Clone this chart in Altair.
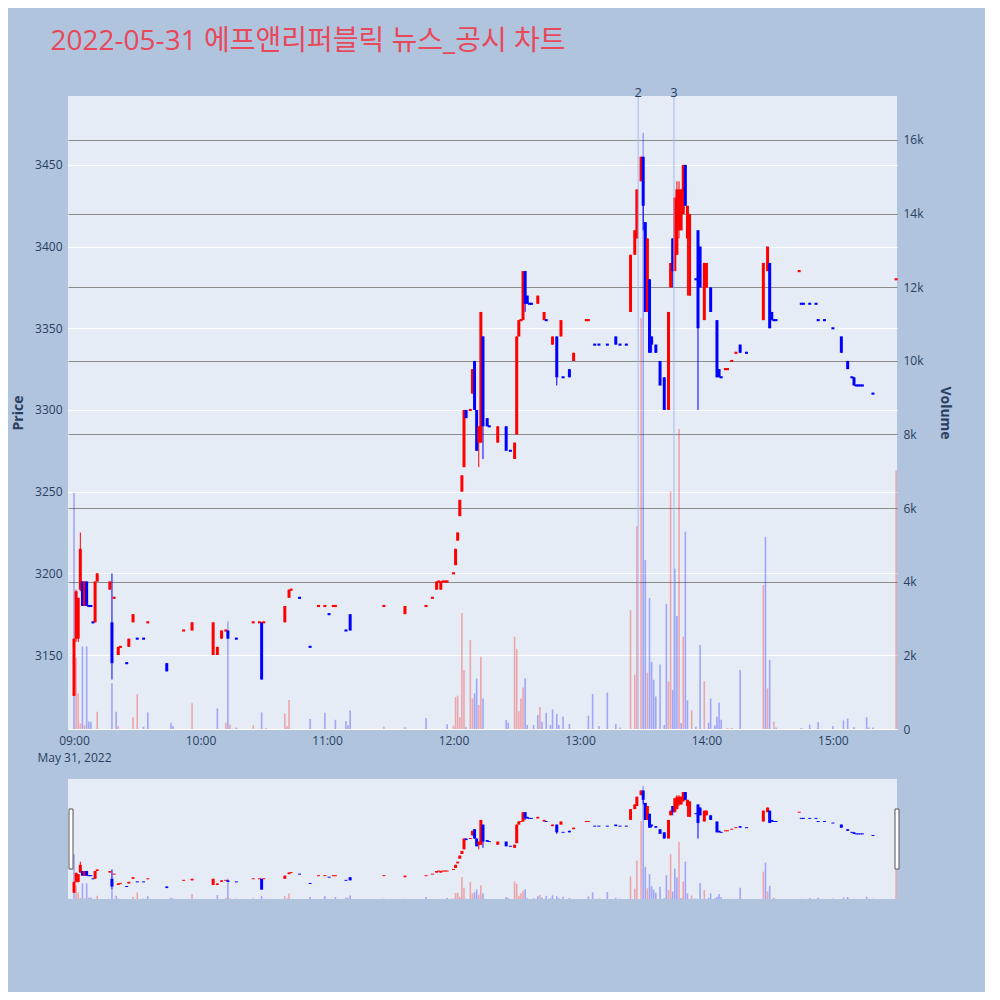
import altair as alt
import pandas as pd

# ---------------- data (minutes after 09:00, prices in KRW) ----------------
candle_t = [0, 1, 2, 3, 4, 5, 6, 7, 8, 9, 10, 11, 17, 18, 19, 21, 22, 25, 26, 28,
            30, 33, 35, 44, 52, 56, 66, 68, 70, 72, 73, 77, 85, 88, 89, 90,
            100, 102, 103, 107, 112, 116, 119, 121, 123, 124, 129, 131, 147, 157,
            167, 170, 172, 173, 174, 175, 176, 177, 180, 181, 182, 183, 184, 185,
            186, 188, 189, 190, 191, 192, 193, 194, 196, 197, 201, 205, 207, 209,
            210, 211, 212, 213, 214, 215, 216, 217, 220, 223, 224, 227, 229, 231,
            232, 235, 237, 243, 244, 247, 249, 253, 257, 259, 262, 264, 266, 267,
            269, 270, 271, 272, 273, 274, 276, 278, 280, 282, 283, 284, 285, 286,
            287, 288, 289, 290, 291, 292, 295, 296, 297, 299, 300, 302, 305, 306,
            307, 309, 310, 312, 314, 316, 319, 327, 329, 330, 331, 332, 333, 344,
            345, 346, 349, 352, 353, 356, 360, 364, 367, 369, 370, 371, 372, 373,
            374, 379, 390]
candle_open = [3125, 3160, 3160, 3190, 3195, 3180, 3195, 3180, 3180, 3170, 3170, 3195, 3190, 3170, 3185, 3150, 3155, 3145, 3155, 3170,
               3160, 3160, 3170, 3145, 3165, 3165, 3150, 3150, 3160, 3165, 3165, 3160, 3170, 3170, 3170, 3170,
               3170, 3185, 3190, 3185, 3155, 3180, 3180, 3175, 3180, 3180, 3165, 3175, 3180, 3175,
               3180, 3185, 3190, 3195, 3190, 3195, 3195, 3195, 3200, 3205, 3220, 3235, 3250, 3265,
               3300, 3300, 3310, 3330, 3300, 3280, 3280, 3345, 3295, 3290, 3280, 3290, 3275, 3270,
               3285, 3345, 3355, 3355, 3385, 3370, 3365, 3365, 3365, 3355, 3355, 3340, 3345, 3345,
               3320, 3325, 3330, 3355, 3355, 3340, 3340, 3340, 3345, 3340, 3340, 3360, 3395, 3405,
               3440, 3455, 3415, 3360, 3380, 3345, 3340, 3330, 3320, 3300, 3375, 3405, 3385, 3395,
               3410, 3410, 3420, 3450, 3405, 3370, 3380, 3410, 3400, 3355, 3375, 3375, 3355, 3325,
               3320, 3325, 3325, 3330, 3335, 3340, 3335, 3355, 3385, 3390, 3360, 3355, 3355, 3385,
               3365, 3365, 3365, 3365, 3355, 3355, 3350, 3345, 3330, 3320, 3320, 3315, 3315, 3315,
               3315, 3310, 3380]
candle_high = [3160, 3190, 3185, 3225, 3195, 3195, 3195, 3180, 3180, 3170, 3195, 3200, 3195, 3200, 3185, 3155, 3155, 3145, 3160, 3175,
               3160, 3160, 3170, 3145, 3165, 3170, 3170, 3155, 3165, 3165, 3165, 3160, 3170, 3170, 3170, 3170,
               3180, 3190, 3190, 3185, 3155, 3180, 3180, 3175, 3180, 3180, 3165, 3175, 3180, 3180,
               3180, 3185, 3195, 3195, 3195, 3195, 3195, 3195, 3200, 3215, 3225, 3245, 3260, 3300,
               3300, 3300, 3325, 3330, 3300, 3290, 3360, 3345, 3295, 3290, 3290, 3290, 3275, 3280,
               3345, 3355, 3355, 3385, 3385, 3370, 3365, 3365, 3370, 3360, 3355, 3345, 3345, 3355,
               3320, 3325, 3335, 3355, 3355, 3340, 3340, 3340, 3345, 3340, 3340, 3395, 3410, 3435,
               3455, 3455, 3415, 3405, 3380, 3345, 3340, 3330, 3320, 3360, 3390, 3405, 3430, 3440,
               3440, 3435, 3450, 3450, 3425, 3420, 3380, 3410, 3400, 3390, 3390, 3375, 3355, 3325,
               3320, 3325, 3325, 3330, 3335, 3340, 3335, 3390, 3400, 3390, 3360, 3355, 3355, 3385,
               3365, 3365, 3365, 3365, 3355, 3355, 3350, 3345, 3330, 3320, 3320, 3315, 3315, 3315,
               3315, 3310, 3380]
candle_low = [3125, 3158, 3158, 3189, 3180, 3180, 3180, 3180, 3180, 3170, 3170, 3195, 3190, 3135, 3185, 3150, 3155, 3145, 3155, 3170,
              3160, 3160, 3170, 3140, 3165, 3165, 3150, 3150, 3160, 3165, 3160, 3160, 3170, 3170, 3135, 3170,
              3170, 3185, 3190, 3185, 3155, 3180, 3180, 3175, 3180, 3180, 3165, 3165, 3180, 3175,
              3180, 3185, 3190, 3195, 3190, 3195, 3195, 3195, 3200, 3205, 3220, 3235, 3250, 3265,
              3295, 3300, 3310, 3300, 3275, 3265, 3280, 3270, 3290, 3290, 3280, 3275, 3275, 3270,
              3285, 3345, 3355, 3355, 3360, 3365, 3365, 3365, 3365, 3355, 3355, 3340, 3315, 3345,
              3320, 3320, 3330, 3355, 3355, 3340, 3340, 3340, 3340, 3340, 3340, 3360, 3395, 3405,
              3440, 3410, 3360, 3360, 3335, 3335, 3335, 3315, 3300, 3300, 3375, 3375, 3385, 3395,
              3405, 3410, 3420, 3425, 3370, 3370, 3380, 3300, 3375, 3355, 3375, 3360, 3320, 3320,
              3320, 3325, 3325, 3330, 3335, 3335, 3335, 3355, 3385, 3350, 3355, 3355, 3355, 3385,
              3365, 3365, 3365, 3365, 3355, 3355, 3350, 3335, 3325, 3320, 3315, 3315, 3315, 3315,
              3315, 3310, 3380]
candle_close = [3160, 3189, 3185, 3215, 3180, 3195, 3180, 3180, 3180, 3170, 3195, 3200, 3195, 3145, 3185, 3155, 3155, 3145, 3160, 3175,
                3160, 3160, 3170, 3140, 3165, 3170, 3170, 3155, 3165, 3165, 3160, 3160, 3170, 3170, 3135, 3170,
                3180, 3190, 3190, 3185, 3155, 3180, 3180, 3175, 3180, 3180, 3165, 3165, 3180, 3180,
                3180, 3185, 3195, 3195, 3195, 3195, 3195, 3195, 3200, 3215, 3225, 3245, 3260, 3300,
                3295, 3300, 3325, 3300, 3275, 3290, 3360, 3290, 3290, 3290, 3290, 3275, 3275, 3280,
                3345, 3355, 3355, 3385, 3365, 3365, 3365, 3365, 3370, 3360, 3355, 3345, 3320, 3355,
                3320, 3320, 3335, 3355, 3355, 3340, 3340, 3340, 3340, 3340, 3340, 3395, 3410, 3435,
                3455, 3425, 3360, 3405, 3335, 3340, 3335, 3315, 3300, 3360, 3390, 3385, 3430, 3435,
                3435, 3435, 3450, 3425, 3425, 3420, 3380, 3350, 3375, 3390, 3390, 3360, 3320, 3320,
                3320, 3325, 3325, 3330, 3335, 3335, 3335, 3390, 3400, 3350, 3355, 3355, 3355, 3385,
                3365, 3365, 3365, 3365, 3355, 3355, 3350, 3335, 3325, 3320, 3315, 3315, 3315, 3315,
                3315, 3310, 3380]

vol_t = [0, 1, 2, 3, 4, 5, 6, 7, 8, 11, 18, 20, 21, 28, 30, 33, 35, 46, 47, 56,
         68, 72, 73, 74, 77, 85, 89, 91, 100, 101, 102, 112, 119, 124, 129, 130, 131,
         147, 157, 167, 177, 180, 181, 182, 183, 184, 185, 186, 188, 189, 190, 191,
         192, 193, 194, 205, 206, 209, 210, 211, 212, 213, 214, 215, 218, 220, 221,
         222, 224, 226, 227, 229, 230, 232, 235, 244, 246, 249, 253, 257, 259, 264,
         266, 267, 269, 270, 271, 272, 273, 274, 275, 276, 278, 280, 281, 282, 283,
         284, 285, 286, 287, 288, 289, 290, 291, 293, 295, 297, 299, 301, 302, 304,
         305, 306, 307, 310, 312, 316, 327, 328, 329, 330, 332, 333, 345, 349, 353,
         360, 365, 367, 370, 376, 377, 379, 390]
vol_value = [6420, 1930, 970, 150, 2240, 100, 2240, 200, 200, 470, 1240, 470, 80, 320, 950, 60, 450, 170, 80, 700,
             560, 170, 2920, 120, 40, 100, 450, 30, 420, 80, 790, 270, 440, 250, 220, 100, 500,
             60, 50, 300, 130, 90, 870, 905, 320, 3150, 1600, 50, 2420, 830, 970, 1370,
             650, 1960, 830, 245, 170, 2510, 2170, 480, 830, 1130, 1380, 110, 110, 380, 600,
             200, 440, 110, 530, 410, 110, 340, 140, 360, 950, 80, 990, 140, 40, 3230,
             1480, 5500, 11170, 16200, 4590, 1530, 3560, 1820, 1340, 880, 1750, 110, 3400, 1290, 6450,
             1060, 4360, 3070, 8150, 160, 2510, 5360, 780, 510, 60, 2280, 1300, 170, 830, 100,
             330, 720, 250, 30, 30, 1600, 3910, 5220, 1100, 1880, 200, 40, 30, 120, 180,
             80, 230, 280, 50, 320, 40, 40, 7020]
vol_dir = [-1, 1, 1, 1, -1, 1, -1, -1, -1, 1, -1, -1, 1, 1, 1, -1, -1, -1, -1, 1,
           -1, 1, -1, 1, -1, 1, -1, 1, 1, 1, 1, -1, -1, -1, -1, -1, -1,
           1, -1, -1, -1, 1, 1, 1, 1, 1, 1, -1, 1, 1, -1, -1,
           1, 1, -1, -1, -1, 1, 1, 1, 1, 1, -1, -1, -1, -1, 1,
           -1, -1, -1, -1, -1, -1, -1, -1, -1, -1, -1, -1, -1, -1, 1,
           1, 1, 1, -1, -1, 1, -1, -1, -1, -1, -1, -1, -1, 1, 1,
           -1, -1, -1, 1, -1, 1, -1, -1, 1, -1, -1, 1, -1, -1, -1,
           -1, -1, -1, 1, 1, -1, 1, -1, 1, -1, 1, -1, -1, -1, -1,
           -1, -1, -1, -1, -1, -1, -1, 1]

news_t = [267.6, 284.6]
news_label = ["2", "3"]

price_ticks = [3150, 3200, 3250, 3300, 3350, 3400, 3450]
volume_ticks = [0, 2000, 4000, 6000, 8000, 10000, 12000, 14000, 16000]
hour_ticks = [0, 60, 120, 180, 240, 300, 360]
hour_labels = ["09:00", "10:00", "11:00", "12:00", "13:00", "14:00", "15:00"]
date_label = "May 31, 2022"
title_text = "2022-05-31 에프앤리퍼블릭 뉴스_공시 차트"

# ---------------- frames ----------------
rows = []
prev_c, prev_up = None, True
for t, o, h, l, c in zip(candle_t, candle_open, candle_high, candle_low, candle_close):
    if c > o:
        up = True
    elif c < o:
        up = False
    elif prev_c is None:
        up = True
    elif c > prev_c:
        up = True
    elif c < prev_c:
        up = False
    else:
        up = prev_up
    rows.append(dict(t=t, o=o, h=h, l=l, c=c, dir="up" if up else "down"))
    prev_c, prev_up = c, up
candles = pd.DataFrame(rows)
volumes = pd.DataFrame(dict(t=vol_t, v=vol_value,
                            dir=["up" if d > 0 else "down" for d in vol_dir]))
news = pd.DataFrame(dict(t=news_t, label=news_label))

X_DOM = [-2.85, 390.4]
P_DOM = [3104.7, 3492.2]
V_DOM = [0, 17195]
FONT = "Open Sans, Noto Sans CJK KR, sans-serif"
TXT = "#2a3f5f"

color_up_down = alt.Scale(domain=["up", "down"], range=["#ff0000", "#0000ff"])

label_expr = "datum.value == 0 ? ['" + hour_labels[0] + "', '" + date_label + "'] : "
for tk, lb in zip(hour_ticks[1:], hour_labels[1:]):
    label_expr += f"datum.value == {tk} ? '{lb}' : "
label_expr += "''"


def build(width, height, flat_half, with_axes):
    xs = alt.Scale(domain=X_DOM, nice=False, zero=False)
    if with_axes:
        x_axis = alt.Axis(values=hour_ticks, labelExpr=label_expr, grid=False,
                          domain=False, ticks=False, labelColor=TXT, labelFontSize=12,
                          labelFont=FONT, labelPadding=6, labelLineHeight=17, title=None)
        p_axis = alt.Axis(values=price_ticks, orient="left", grid=True, gridColor="#ffffff",
                          gridWidth=1.2, domain=False, ticks=False, labelColor=TXT,
                          labelFontSize=12, labelFont=FONT, labelPadding=6, format="d",
                          title="Price", titleColor=TXT, titleFontSize=14, titleFont=FONT,
                          titleFontWeight="bold", titlePadding=9)
        v_axis = alt.Axis(values=volume_ticks, orient="right", grid=True,
                          gridColor={"condition": {"test": "datum.value === 0", "value": "#ffffff"},
                                     "value": "#8c8c8c"},
                          gridWidth=1.2, domain=False, ticks=False, labelColor=TXT,
                          labelFontSize=12, labelFont=FONT, labelPadding=6,
                          labelExpr="datum.value == 0 ? '0' : (datum.value / 1000) + 'k'",
                          title="Volume", titleColor=TXT, titleFontSize=14, titleFont=FONT,
                          titleFontWeight="bold", titlePadding=14)
    else:
        x_axis = None
        p_axis = None
        v_axis = None

    vol = alt.Chart(volumes).mark_rule(strokeWidth=1.6, opacity=0.3).encode(
        x=alt.X("t:Q", scale=xs, axis=x_axis),
        y=alt.Y("v:Q", scale=alt.Scale(domain=V_DOM, nice=False, zero=False), axis=v_axis),
        y2=alt.datum(0),
        color=alt.Color("dir:N", scale=color_up_down, legend=None),
    )
    wick = alt.Chart(candles).mark_rule(strokeWidth=1).encode(
        x=alt.X("t:Q", scale=xs, axis=x_axis),
        y=alt.Y("l:Q", scale=alt.Scale(domain=P_DOM, nice=False, zero=False), axis=p_axis),
        y2="h:Q",
        color=alt.Color("dir:N", scale=color_up_down, legend=None),
    )
    body = alt.Chart(candles).transform_calculate(
        lo=f"datum.o == datum.c ? datum.o - {flat_half} : min(datum.o, datum.c)",
        hi=f"datum.o == datum.c ? datum.o + {flat_half} : max(datum.o, datum.c)",
    ).mark_rule(strokeWidth=3).encode(
        x="t:Q",
        y="lo:Q",
        y2="hi:Q",
        color=alt.Color("dir:N", scale=color_up_down, legend=None),
    )
    price_layers = [wick, body]
    if with_axes:
        nrule = alt.Chart(news).mark_rule(color="#9fb2ee", strokeWidth=1, opacity=0.9).encode(
            x="t:Q", y=alt.value(-2), y2=alt.value(height))
        ntext = alt.Chart(news).mark_text(fontSize=13, font=FONT, color=TXT,
                                          baseline="bottom", dy=4).encode(
            x="t:Q", y=alt.value(0), text="label:N")
        price_layers += [nrule, ntext]
    inner = alt.layer(*price_layers)
    return alt.layer(vol, inner).resolve_scale(y="independent").properties(
        width=width, height=height)


main = build(829, 633, 0.65, True)
slider = build(829, 120, 1.6, False)

# range-slider handles (decoration)
hdf = pd.DataFrame({"side": ["left", "right"]})
handle = alt.Chart(hdf).transform_filter("datum.side == 'left'").mark_rect(
    fill="#ffffff", stroke="#555555", strokeWidth=1).encode(
    x=alt.value(1), x2=alt.value(5), y=alt.value(30), y2=alt.value(90))
handle2 = alt.Chart(hdf).transform_filter("datum.side == 'right'").mark_rect(
    fill="#ffffff", stroke="#555555", strokeWidth=1).encode(
    x=alt.value(827), x2=alt.value(831), y=alt.value(30), y2=alt.value(90))
slider_full = alt.layer(slider, handle, handle2).properties(width=829, height=120)

chart = alt.vconcat(main, slider_full, spacing=16).properties(
    background="#b0c4de",
    padding={"left": 3, "top": 20, "right": 33, "bottom": 92},
    title=alt.TitleParams(title_text, anchor="start", fontSize=28, color="#e8485a",
                          font=FONT, fontWeight="normal", dx=39, offset=31),
).configure_view(fill="#e5ecf6", stroke=None)

chart.save("out.html", embed_options={"renderer": "svg", "actions": False})
